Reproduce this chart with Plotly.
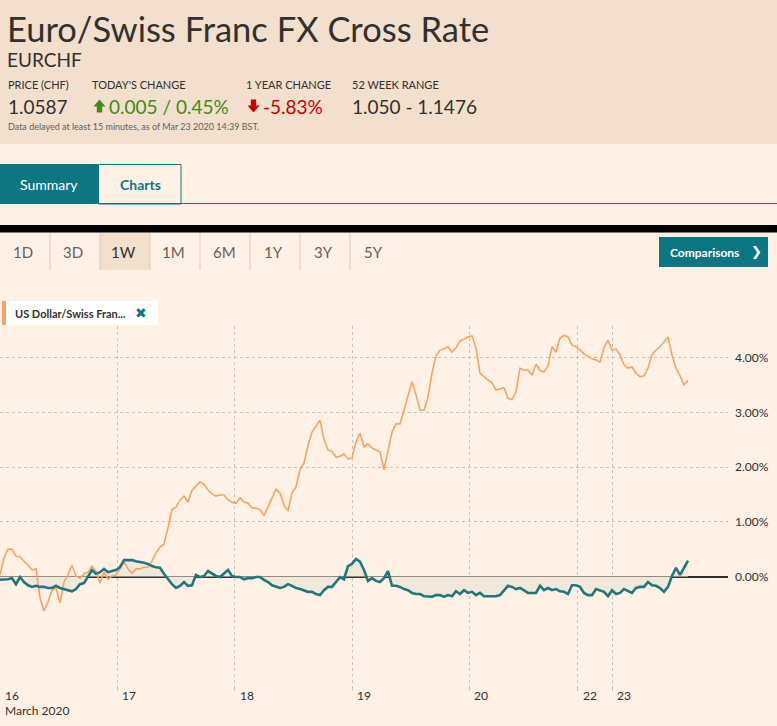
import plotly.graph_objects as go

# ---------------- data ----------------
date_labels = ["16", "17", "18", "19", "20", "22", "23"]
date_pos = [0, 29.33, 58.67, 88.08, 117.33, 144.42, 153.08]   # sample-index positions of day starts

ytick_vals = [0, 1, 2, 3, 4]
ytick_text = ["0.00%", "1.00%", "2.00%", "3.00%", "4.00%"]

usdchf_pct = [
    0.03, 0.34, 0.50, 0.50, 0.37, 0.36, 0.28, 0.21, 0.12, 0.14,
    -0.39, -0.63, -0.47, -0.25, -0.21, -0.48, -0.10, 0.03, 0.21, 0.01,
    -0.03, 0.05, 0.08, 0.19, 0.10, -0.12, 0.08, -0.05, 0.01, 0.03,
    0.14, 0.27, 0.14, 0.06, 0.14, 0.14, 0.17, 0.17, 0.28, 0.43,
    0.54, 0.59, 0.89, 1.22, 1.27, 1.40, 1.47, 1.36, 1.58, 1.65,
    1.73, 1.69, 1.58, 1.51, 1.47, 1.49, 1.49, 1.40, 1.36, 1.34,
    1.44, 1.36, 1.34, 1.25, 1.25, 1.22, 1.12, 1.27, 1.45, 1.60,
    1.53, 1.31, 1.20, 1.53, 1.64, 1.95, 2.07, 2.40, 2.64, 2.75,
    2.86, 2.51, 2.31, 2.29, 2.18, 2.20, 2.24, 2.15, 2.17, 2.46,
    2.62, 2.37, 2.42, 2.35, 2.31, 2.28, 1.95, 2.31, 2.64, 2.79,
    2.79, 3.04, 3.28, 3.56, 3.32, 3.04, 3.04, 3.28, 3.72, 4.03,
    4.14, 4.16, 4.20, 4.10, 4.18, 4.31, 4.34, 4.38, 4.40, 4.18,
    3.72, 3.65, 3.59, 3.54, 3.41, 3.43, 3.45, 3.26, 3.23, 3.37,
    3.81, 3.77, 3.77, 3.68, 3.88, 3.77, 3.74, 3.85, 4.20, 4.10,
    4.36, 4.41, 4.38, 4.23, 4.20, 4.14, 4.07, 4.03, 3.98, 3.96,
    3.92, 4.18, 4.32, 4.14, 4.16, 4.05, 3.87, 3.81, 3.83, 3.72,
    3.65, 3.67, 3.81, 4.05, 4.14, 4.20, 4.29, 4.38, 4.05, 3.81,
    3.67, 3.50, 3.59,
]

eurchf_pct = [
    -0.06, -0.06, -0.05, -0.03, -0.14, -0.01, -0.10, -0.16, -0.19, -0.17,
    -0.19, -0.19, -0.21, -0.21, -0.17, -0.21, -0.23, -0.25, -0.27, -0.23,
    -0.14, -0.12, -0.01, 0.12, 0.05, 0.08, 0.14, 0.08, 0.10, 0.12,
    0.17, 0.30, 0.30, 0.30, 0.28, 0.27, 0.25, 0.23, 0.19, 0.17,
    0.16, 0.05, -0.05, -0.14, -0.21, -0.17, -0.10, -0.17, -0.16, 0.03,
    -0.01, 0.01, 0.10, 0.05, 0.01, -0.01, 0.06, 0.12, 0.01, -0.01,
    -0.01, -0.05, -0.03, -0.03, -0.01, -0.01, -0.06, -0.10, -0.16, -0.19,
    -0.21, -0.19, -0.14, -0.17, -0.21, -0.23, -0.25, -0.28, -0.28, -0.32,
    -0.34, -0.25, -0.19, -0.19, -0.10, -0.01, -0.05, 0.19, 0.23, 0.32,
    0.27, 0.12, -0.08, -0.03, -0.08, -0.10, -0.03, 0.10, -0.17, -0.17,
    -0.19, -0.23, -0.25, -0.30, -0.32, -0.32, -0.36, -0.37, -0.37, -0.34,
    -0.34, -0.37, -0.34, -0.36, -0.27, -0.32, -0.25, -0.30, -0.28, -0.34,
    -0.30, -0.36, -0.36, -0.37, -0.36, -0.34, -0.25, -0.17, -0.19, -0.23,
    -0.21, -0.25, -0.30, -0.30, -0.30, -0.17, -0.25, -0.21, -0.25, -0.23,
    -0.27, -0.28, -0.32, -0.16, -0.16, -0.19, -0.30, -0.34, -0.34, -0.23,
    -0.25, -0.28, -0.36, -0.25, -0.32, -0.30, -0.23, -0.27, -0.30, -0.21,
    -0.19, -0.19, -0.10, -0.16, -0.17, -0.21, -0.28, -0.19, 0.01, 0.16,
    0.03, 0.16, 0.29,
]

x_idx = list(range(len(usdchf_pct)))

# ---------------- styling ----------------
PAGE = "#fff1e5"
HEAD = "#f2dfce"
TEAL = "#0d7680"
INK = "#33302e"
GREY = "#66605c"
ORANGE = "#f3a462"
LINE_TEAL = "#22767c"
GREEN = "#458a16"
RED = "#cc0000"
FONT = "Lato, 'Open Sans', sans-serif"

FIG_W, FIG_H = 777, 726
PL, PR, PT, PB = 0, 728, 326, 691


def X(px):
    return (px - PL) / (PR - PL)


def Y(py):
    return (PB - py) / (PB - PT)


fig = go.Figure()

fig.add_trace(go.Scatter(
    x=x_idx, y=eurchf_pct, mode="none", fill="tozeroy",
    fillcolor="#f1e7db", hoverinfo="skip", showlegend=False))
fig.add_trace(go.Scatter(
    x=x_idx, y=usdchf_pct, mode="lines", name="US Dollar/Swiss Franc",
    line=dict(color=ORANGE, width=1.6), showlegend=False))
fig.add_trace(go.Scatter(
    x=x_idx, y=eurchf_pct, mode="lines", name="Euro/Swiss Franc",
    line=dict(color=LINE_TEAL, width=2.6), showlegend=False))

shapes = []


def rect(x0, y0, x1, y1, fill, line_color=None, lw=0):
    shapes.append(dict(type="rect", xref="paper", yref="paper",
                       x0=X(x0), x1=X(x1), y0=Y(y0), y1=Y(y1),
                       fillcolor=fill, layer="below",
                       line=dict(color=line_color or fill, width=lw)))


def hline(x0, x1, y, color, w):
    shapes.append(dict(type="line", xref="paper", yref="paper",
                       x0=X(x0), x1=X(x1), y0=Y(y), y1=Y(y),
                       line=dict(color=color, width=w), layer="below"))


def vline(x, y0, y1, color, w):
    shapes.append(dict(type="line", xref="paper", yref="paper",
                       x0=X(x), x1=X(x), y0=Y(y0), y1=Y(y1),
                       line=dict(color=color, width=w), layer="below"))


def polygon(pts, color):
    d = "M " + " L ".join(f"{X(a):.5f},{Y(b):.5f}" for a, b in pts) + " Z"
    shapes.append(dict(type="path", xref="paper", yref="paper", path=d,
                       fillcolor=color, line=dict(width=0), layer="above"))


rect(0, 0, FIG_W, 144, HEAD)
rect(0, 164, 98, 204, TEAL)
rect(98.5, 164.5, 181, 204, "rgba(0,0,0,0)", TEAL, 1)
hline(0, FIG_W, 203.5, TEAL, 1.2)
rect(0, 225, FIG_W, 232.5, "#000000")
rect(100, 233, 150, 270, HEAD)
for dx in [50, 100, 150, 200, 250, 300, 350]:
    vline(dx, 233, 270, "#dccbbb", 1)
rect(659, 237, 768, 267, TEAL)
rect(6, 301, 158, 325, "#ffffff")
rect(2, 301, 6, 325, ORANGE)

# change arrows (block arrows)
polygon([(93.5, 106.5), (99.5, 99.5), (105.5, 106.5), (102.2, 106.5),
         (102.2, 112.5), (96.8, 112.5), (96.8, 106.5)], GREEN)
polygon([(247.5, 105.5), (250.8, 105.5), (250.8, 99.5), (256.2, 99.5),
         (256.2, 105.5), (259.5, 105.5), (253.5, 112.5)], RED)

ann = []


def text(s, px, py, size, color=INK, anchor="left", weight="normal", family=FONT):
    ann.append(dict(text=s, xref="paper", yref="paper", x=X(px), y=Y(py),
                    xanchor=anchor, yanchor="middle", showarrow=False,
                    font=dict(size=size, color=color, family=family, weight=weight)))


text("Euro/Swiss Franc FX Cross Rate", 5, 28, 34.5)
text("EURCHF", 5, 59, 19)
text("PRICE (CHF)", 6, 84, 11)
text("TODAY'S CHANGE", 90, 84, 11)
text("1 YEAR CHANGE", 244, 84, 11)
text("52 WEEK RANGE", 350, 84, 11)
text("1.0587", 6, 106, 19)
text("0.005 / 0.45%", 107, 106, 19, GREEN)
text("-5.83%", 261, 106, 19, RED)
text("1.050 - 1.1476", 350, 106, 19)
text("Data delayed at least 15 minutes, as of Mar 23 2020 14:39 BST.", 6, 127, 9, GREY)

text("Summary", 49, 184, 14, "#ffffff", anchor="center")
text("Charts", 140, 184, 14, TEAL, anchor="center", weight="bold")

for lab, cx in zip(["1D", "3D", "1W", "1M", "6M", "1Y", "3Y", "5Y"],
                   [23, 73, 123, 173, 224, 273, 323, 374]):
    text(lab, cx, 252, 15, INK if lab == "1W" else GREY, anchor="center")

text("Comparisons", 704, 252, 12, "#ffffff", anchor="center", weight="bold")
text("❯", 756, 252, 13, "#ffffff", anchor="center", family="DejaVu Sans")

text("US Dollar/Swiss Fran...", 13, 313, 11, INK, weight="bold")
text("✖", 141, 313, 14, TEAL, anchor="center", family="DejaVu Sans")

# date labels under the x axis (data-positioned)
for lab, pos in zip(date_labels, date_pos):
    ann.append(dict(text=lab, xref="x", yref="paper", x=pos, y=Y(695),
                    xanchor="left", yanchor="middle", xshift=3, showarrow=False,
                    font=dict(size=12, color=INK, family=FONT)))
text("March 2020", 3, 710, 12, INK)

fig.update_layout(
    width=FIG_W, height=FIG_H,
    margin=dict(l=PL, r=FIG_W - PR, t=PT, b=FIG_H - PB, pad=0),
    paper_bgcolor=PAGE, plot_bgcolor=PAGE,
    font=dict(family=FONT, color=INK),
    shapes=shapes, annotations=ann, showlegend=False,
    xaxis=dict(range=[0, 182], tickvals=date_pos[1:], showticklabels=False,
               showgrid=True, gridcolor="#ccc1b7", griddash="dot", gridwidth=1,
               ticks="inside", ticklen=5, tickcolor="#ccc1b7",
               zeroline=False, showline=False, fixedrange=True, automargin=False),
    yaxis=dict(range=[-2.093, 4.58], side="right", tickvals=ytick_vals,
               ticktext=ytick_text, showgrid=True, gridcolor="#ccc1b7",
               griddash="dot", gridwidth=1, zeroline=True,
               zerolinecolor=INK, zerolinewidth=1.5, ticks="",
               ticklabelstandoff=6, tickfont=dict(size=12, color=INK),
               showline=False, automargin=False, fixedrange=True),
)

fig.write_html("out.html", config={"displayModeBar": False},
               post_script="document.body.style.margin='0';document.body.style.background='#fff1e5';")
